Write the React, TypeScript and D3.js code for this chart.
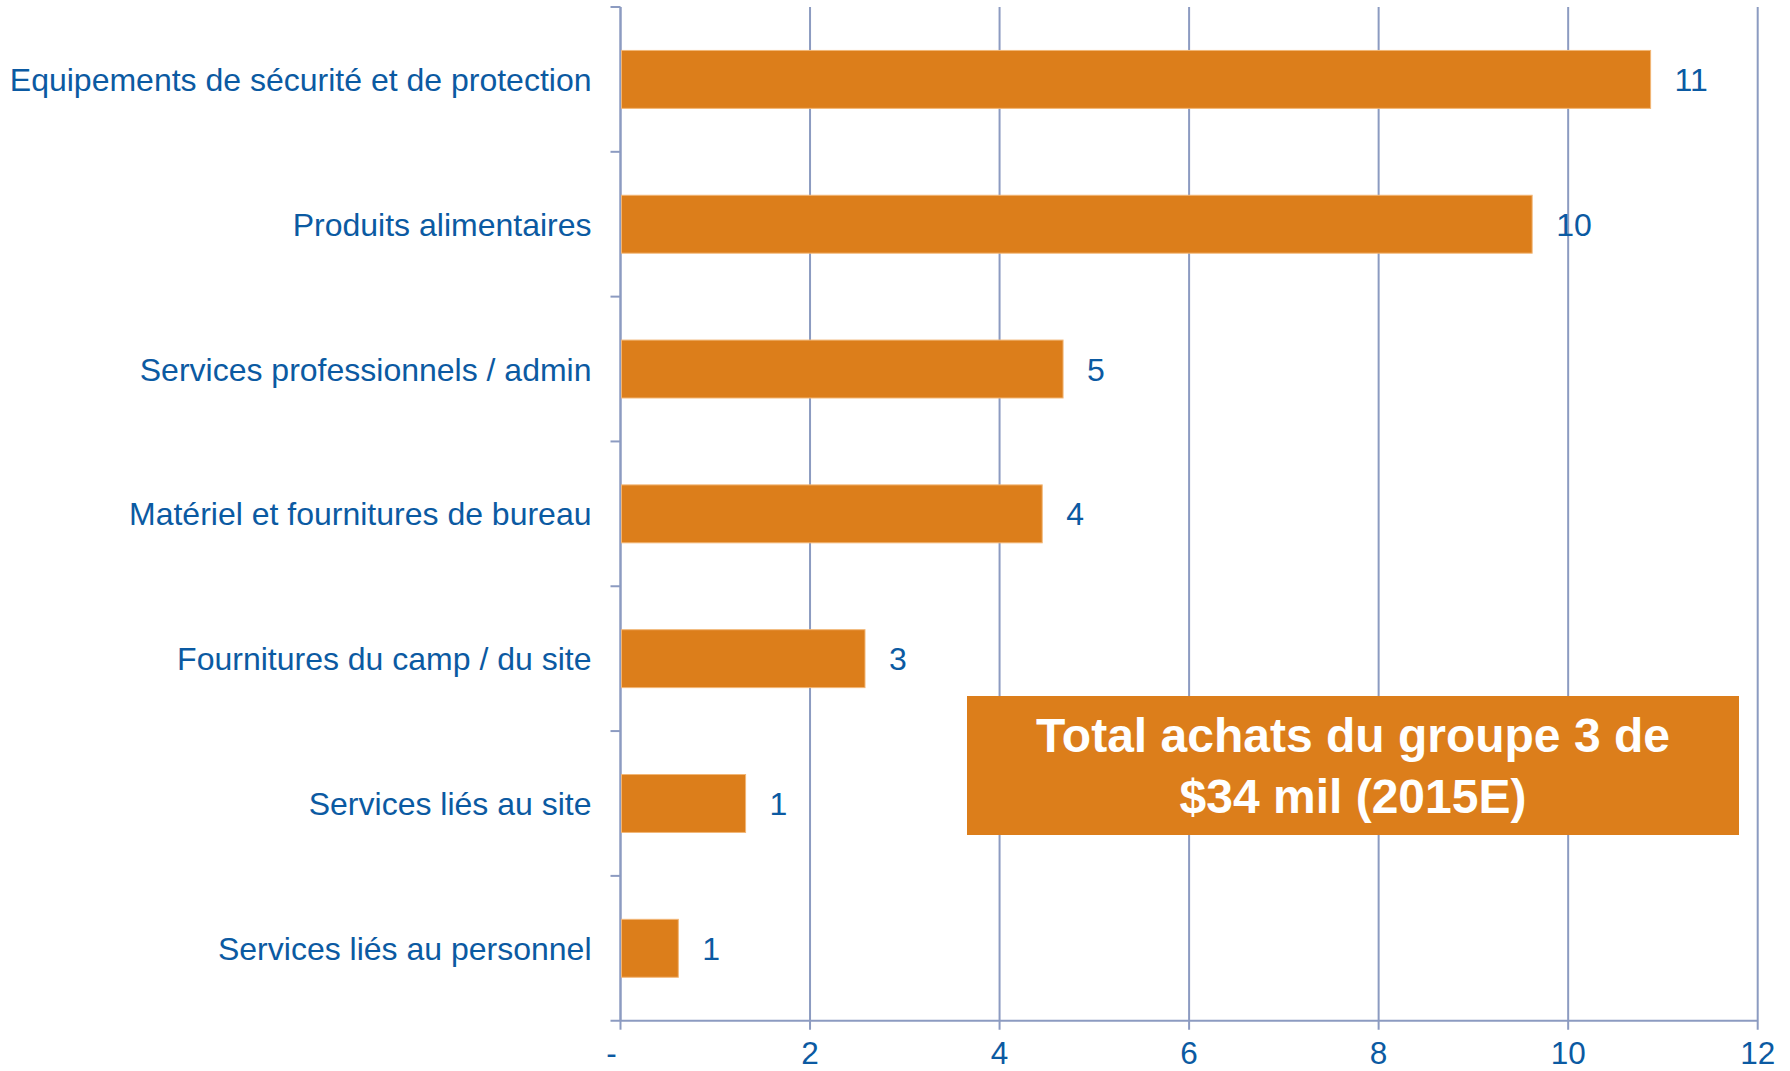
import React from "react";
import { scaleLinear, scaleBand, format } from "d3";

const categories = [
  "Equipements de sécurité et de protection",
  "Produits alimentaires",
  "Services professionnels / admin",
  "Matériel et fournitures de bureau",
  "Fournitures du camp / du site",
  "Services liés au site",
  "Services liés au personnel"
];
const values = [10.87, 9.62, 4.67, 4.45, 2.58, 1.32, 0.61];
const xTicks = [0, 2, 4, 6, 8, 10, 12];
const xTickLabels = ["-", "2", "4", "6", "8", "10", "12"];
const boxLines = ["Total achats du groupe 3 de", "$34 mil (2015E)"];

export default function App() {
  const width = 1790,
    height = 1071,
    plotLeft = 620.5,
    plotRight = 1757.7,
    plotTop = 7,
    plotBottom = 1020.7;
  const orange = "#dc7e1b";
  const blue = "#0b5aa2";
  const grid = "#8c9bc1";
  const font = "'Liberation Sans', Arial, sans-serif";

  const x = scaleLinear().domain([0, 12]).range([plotLeft, plotRight]);
  const y = scaleBand()
    .domain(categories)
    .range([plotTop, plotBottom])
    .paddingInner(0.6)
    .paddingOuter(0.3);
  const step = y.step();
  const fmt = format(".0f");

  return (
    <svg
      width={width}
      height={height}
      style={{ position: "absolute", left: 0, top: 0, background: "#fff" }}
    >
      {/* vertical gridlines */}
      {xTicks.slice(1).map(t => (
        <line
          key={"g" + t}
          x1={x(t)}
          x2={x(t)}
          y1={plotTop}
          y2={plotBottom + 9}
          stroke={grid}
          strokeWidth={2}
        />
      ))}
      {/* x axis */}
      <line x1={plotLeft - 10} x2={plotRight} y1={plotBottom} y2={plotBottom} stroke={grid} strokeWidth={2} />
      <line x1={plotLeft} x2={plotLeft} y1={plotBottom} y2={plotBottom + 9} stroke={grid} strokeWidth={2} />
      {xTicks.map((t, i) => (
        <text
          key={"xl" + t}
          x={t === 0 ? x(t) - 9 : x(t)}
          y={1064}
          textAnchor="middle"
          fill={blue}
          fontSize={31.5}
          fontFamily={font}
        >
          {xTickLabels[i]}
        </text>
      ))}
      {/* y axis */}
      <line x1={plotLeft} x2={plotLeft} y1={plotTop} y2={plotBottom} stroke={grid} strokeWidth={2.5} />
      {categories.map((c, i) => (
        <line
          key={"yt" + c}
          x1={plotLeft - 10}
          x2={plotLeft}
          y1={plotTop + i * step}
          y2={plotTop + i * step}
          stroke={grid}
          strokeWidth={2}
        />
      ))}
      {/* bars */}
      {categories.map((c, i) => (
        <rect
          key={"b" + c}
          x={x(0) + 1}
          y={y(c)}
          width={x(values[i]) - x(0) - 1}
          height={y.bandwidth()}
          fill={orange}
          stroke="#f2b676"
          strokeWidth={1}
        />
      ))}
      {/* category labels */}
      {categories.map(c => (
        <text
          key={"cl" + c}
          x={591.5}
          y={(y(c) as number) + y.bandwidth() / 2}
          dy="0.36em"
          textAnchor="end"
          fill={blue}
          fontSize={32}
          fontFamily={font}
        >
          {c}
        </text>
      ))}
      {/* value labels */}
      {categories.map((c, i) => (
        <text
          key={"vl" + c}
          x={x(values[i]) + 24}
          y={(y(c) as number) + y.bandwidth() / 2}
          dy="0.36em"
          fill={blue}
          fontSize={32}
          fontFamily={font}
        >
          {fmt(values[i])}
        </text>
      ))}
      {/* annotation box */}
      <rect x={967} y={696} width={772} height={139} fill={orange} />
      {boxLines.map((l, i) => (
        <text
          key={"bx" + i}
          x={1353}
          y={752.3 + i * 61}
          textAnchor="middle"
          fill="#fff"
          fontWeight="bold"
          fontSize={48}
          fontFamily={font}
        >
          {l}
        </text>
      ))}
    </svg>
  );
}
